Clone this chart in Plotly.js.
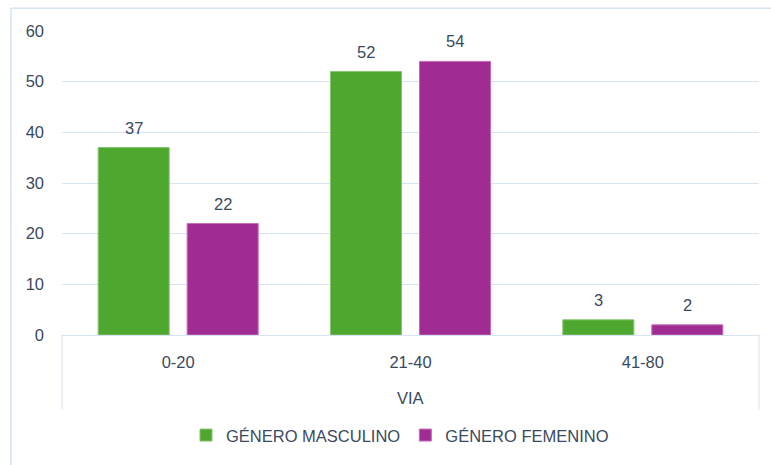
<!DOCTYPE html>
<html>
<head>
<meta charset="utf-8">
<script src="https://cdn.plot.ly/plotly-3.0.1.min.js"></script>
<style>
html,body{margin:0;padding:0;background:#fff;}
#chart{width:771px;height:465px;}
</style>
</head>
<body>
<div id="chart"></div>
<script>
const categories = ["0-20", "21-40", "41-80"];
const masculino = [37, 52, 3];
const femenino = [22, 54, 2];
const seriesNames = ["GÉNERO MASCULINO", "GÉNERO FEMENINO"];
const axisTitle = "VIA";

const FONT = "Liberation Sans, Arial, sans-serif";
const FS = 16.5;
const TXT = "#3a4a5e";
const GRID = "#d5e3f3";
const COLORS = ["#4ea72e", "#a02b93"];
const EDGES = ["#86c56d", "#c66dba"];

const series = [masculino, femenino];
const traces = series.map((vals, i) => ({
  type: "bar", name: seriesNames[i], x: categories, y: vals,
  marker: {color: COLORS[i], line: {color: EDGES[i], width: 1}},
  hoverinfo: "none"
}));

const L = 62, R = 759, T = 31, B = 337;
const px2x = p => (p - L) / (R - L);
const py2y = p => (B - p) / (B - T);

// value labels anchored to the data values, shifted to each bar's group slot
const labelAnn = [];
series.forEach((vals, i) => {
  vals.forEach((v, j) => {
    labelAnn.push({
      xref: "x", yref: "y", x: categories[j], y: v, text: String(v), showarrow: false,
      xanchor: "center", yanchor: "middle", xshift: i === 0 ? -44.5 : 44.5, yshift: 20,
      font: {family: FONT, size: FS, color: TXT}
    });
  });
});

const layout = {
  width: 771, height: 465,
  margin: {l: L, r: 771 - R, t: T, b: 465 - B, pad: 0},
  paper_bgcolor: "#ffffff", plot_bgcolor: "#ffffff",
  font: {family: FONT, size: FS, color: TXT},
  barmode: "group", bargap: 0.234, bargroupgap: 0.202,
  showlegend: true,
  legend: {orientation: "h", x: px2x(400), xanchor: "center", y: py2y(438), yanchor: "middle",
           font: {family: FONT, size: FS, color: TXT}, itemwidth: 30, traceorder: "normal"},
  xaxis: {type: "category", showgrid: false, showline: true, linecolor: GRID, linewidth: 1,
          ticks: "", ticklabelstandoff: 12, tickfont: {family: FONT, size: FS, color: TXT}, fixedrange: true},
  yaxis: {range: [0, 60], dtick: 10, showgrid: true, gridcolor: GRID, gridwidth: 1,
          zeroline: false, showline: false, ticks: "", ticklabelstandoff: 17,
          tickfont: {family: FONT, size: FS, color: TXT}, fixedrange: true},
  annotations: labelAnn.concat([
    {xref: "paper", yref: "paper", x: 0.5, y: py2y(400), xanchor: "center", yanchor: "middle",
     text: axisTitle, showarrow: false, font: {family: FONT, size: FS, color: TXT}}
  ]),
  shapes: [
    {type: "line", xref: "paper", yref: "paper", x0: 0, x1: 0, y0: 0, y1: py2y(412), line: {color: GRID, width: 1}},
    {type: "line", xref: "paper", yref: "paper", x0: 1, x1: 1, y0: 0, y1: py2y(412), line: {color: GRID, width: 1}},
    {type: "rect", xref: "paper", yref: "paper", x0: px2x(11), x1: px2x(790), y0: py2y(490), y1: py2y(8),
     line: {color: "#d5e3f3", width: 1.5}, fillcolor: "rgba(0,0,0,0)", layer: "below"}
  ]
};

Plotly.newPlot("chart", traces, layout, {displayModeBar: false, staticPlot: true});
</script>
</body>
</html>
